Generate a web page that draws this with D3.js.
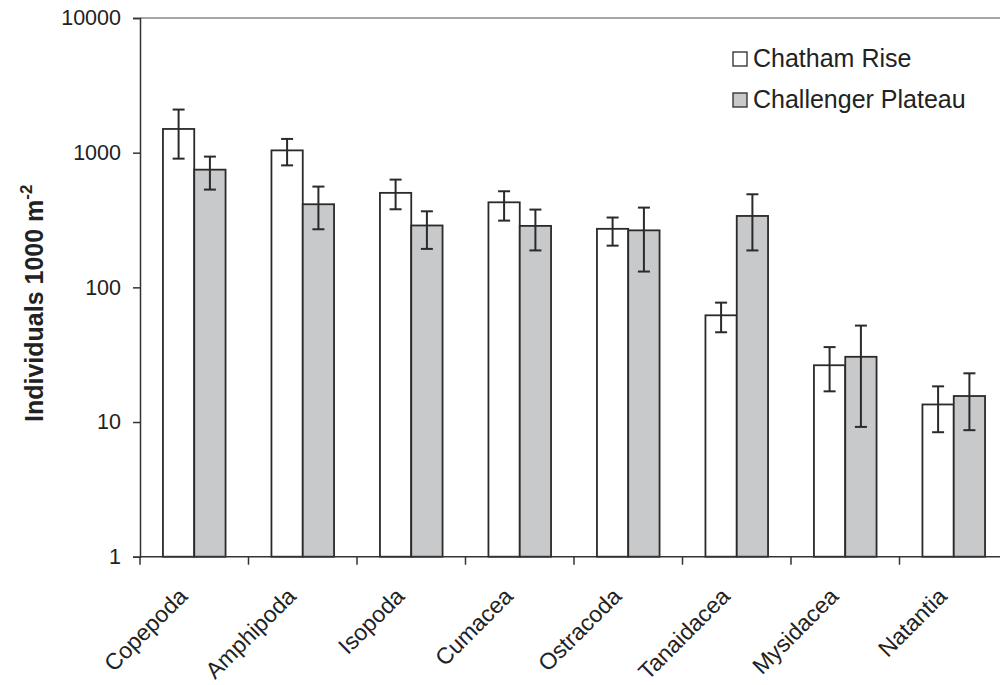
<!DOCTYPE html>
<html>
<head>
<meta charset="utf-8">
<script src="https://cdn.jsdelivr.net/npm/d3@7"></script>
<style>
  body { margin: 0; background: #fff; }
  text { font-family: "Liberation Sans", Arial, sans-serif; fill: #222; }
</style>
</head>
<body>
<div id="chart"></div>
<script>
// taxa along the x axis
const categories = ["Copepoda", "Amphipoda", "Isopoda", "Cumacea", "Ostracoda", "Tanaidacea", "Mysidacea", "Natantia"];
const seriesNames = ["Chatham Rise", "Challenger Plateau"];

// mean abundance (individuals 1000 m-2) with error bar ends
const chathamMean = [1500, 1040, 503, 428, 272, 62, 26.4, 13.5];
const chathamHigh = [2090, 1265, 631, 517, 330, 77, 36, 18.4];
const chathamLow  = [903, 805, 380, 313, 204, 46.4, 16.9, 8.4];

const challengerMean = [748, 414, 288, 286, 265, 339, 30.5, 15.6];
const challengerHigh = [935, 560, 367, 378, 391, 491, 52, 23];
const challengerLow  = [532, 270, 193, 188, 131, 188, 9.2, 8.7];

const yTicks = [1, 10, 100, 1000, 10000];

const width = 1000, height = 685;
const margin = { top: 18, left: 140, bottom: 128 };

const svg = d3.select("#chart").append("svg")
  .attr("width", width)
  .attr("height", height);

const x0 = d3.scaleBand()
  .domain(categories)
  .range([margin.left, margin.left + 8 * 108.5])
  .padding(0);

const x1 = d3.scaleBand()
  .domain(seriesNames)
  .range([0, x0.bandwidth()])
  .paddingInner(0)
  .paddingOuter(0.733);

const y = d3.scaleLog()
  .domain([1, 10000])
  .range([height - margin.bottom - 0.3, margin.top]);

const fills = ["#ffffff", "#c8c9cb"];
const axisColor = "#333";

const rows = categories.map((c, i) => ({
  cat: c,
  vals: [
    { s: seriesNames[0], v: chathamMean[i], hi: chathamHigh[i], lo: chathamLow[i] },
    { s: seriesNames[1], v: challengerMean[i], hi: challengerHigh[i], lo: challengerLow[i] }
  ]
}));

// top frame line
svg.append("line")
  .attr("x1", margin.left).attr("x2", width)
  .attr("y1", y(10000)).attr("y2", y(10000))
  .attr("stroke", "#888").attr("stroke-width", 1.5);

// bars
const groups = svg.selectAll("g.group")
  .data(rows)
  .enter().append("g")
  .attr("class", "group")
  .attr("transform", d => `translate(${x0(d.cat)},0)`);

groups.selectAll("rect")
  .data(d => d.vals)
  .enter().append("rect")
  .attr("x", d => x1(d.s))
  .attr("y", d => y(d.v))
  .attr("width", x1.bandwidth())
  .attr("height", d => y(1) - y(d.v))
  .attr("fill", (d, i) => fills[i])
  .attr("stroke", "#2a2a2a")
  .attr("stroke-width", 1.8);

// error bars
const cap = 6;
const err = groups.selectAll("g.err")
  .data(d => d.vals)
  .enter().append("g")
  .attr("class", "err")
  .attr("stroke", "#2a2a2a")
  .attr("stroke-width", 2);

err.append("line")
  .attr("x1", d => x1(d.s) + x1.bandwidth() / 2)
  .attr("x2", d => x1(d.s) + x1.bandwidth() / 2)
  .attr("y1", d => y(d.hi))
  .attr("y2", d => y(d.lo));
err.append("line")
  .attr("x1", d => x1(d.s) + x1.bandwidth() / 2 - cap)
  .attr("x2", d => x1(d.s) + x1.bandwidth() / 2 + cap)
  .attr("y1", d => y(d.hi)).attr("y2", d => y(d.hi));
err.append("line")
  .attr("x1", d => x1(d.s) + x1.bandwidth() / 2 - cap)
  .attr("x2", d => x1(d.s) + x1.bandwidth() / 2 + cap)
  .attr("y1", d => y(d.lo)).attr("y2", d => y(d.lo));

// y axis
const yAxis = svg.append("g")
  .attr("transform", `translate(${margin.left},0)`)
  .call(d3.axisLeft(y).tickValues(yTicks).tickFormat(d3.format("d")).tickSize(7).tickPadding(12));
yAxis.select(".domain").attr("stroke", axisColor).attr("stroke-width", 1.5);
yAxis.selectAll(".tick line").attr("stroke", axisColor).attr("stroke-width", 1.5);
yAxis.selectAll(".tick text")
  .attr("font-size", 21.5)
  .attr("font-family", "Liberation Sans, Arial, sans-serif")
  .attr("fill", "#222");

// x axis
svg.append("line")
  .attr("x1", margin.left).attr("x2", width)
  .attr("y1", y(1)).attr("y2", y(1))
  .attr("stroke", axisColor).attr("stroke-width", 1.5);

svg.selectAll("line.xtick")
  .data(categories)
  .enter().append("line")
  .attr("class", "xtick")
  .attr("x1", d => x0(d)).attr("x2", d => x0(d))
  .attr("y1", y(1)).attr("y2", y(1) + 8)
  .attr("stroke", axisColor).attr("stroke-width", 1.5);

svg.selectAll("text.xlabel")
  .data(categories)
  .enter().append("text")
  .attr("class", "xlabel")
  .attr("text-anchor", "end")
  .attr("font-size", 23)
  .attr("transform", d => `translate(${x0(d) + x0.bandwidth() / 2 - 5.5},${y(1) + 41}) rotate(-45)`)
  .text(d => d);

// y axis title
const title = svg.append("text")
  .attr("transform", "translate(43,422) rotate(-90)")
  .attr("text-anchor", "start")
  .attr("font-size", 25)
  .attr("font-weight", "bold");
title.append("tspan").text("Individuals 1000 m");
title.append("tspan").attr("dy", -11).attr("font-size", 17).text("-2");

// legend
const legend = svg.append("g").attr("transform", "translate(733,52)");
seriesNames.forEach((s, i) => {
  const g = legend.append("g").attr("transform", `translate(0,${i * 41})`);
  g.append("rect")
    .attr("width", 14).attr("height", 14)
    .attr("fill", fills[i])
    .attr("stroke", "#2a2a2a").attr("stroke-width", 1.3);
  g.append("text")
    .attr("x", 20).attr("y", 15)
    .attr("font-size", 25)
    .text(s);
});
</script>
</body>
</html>
